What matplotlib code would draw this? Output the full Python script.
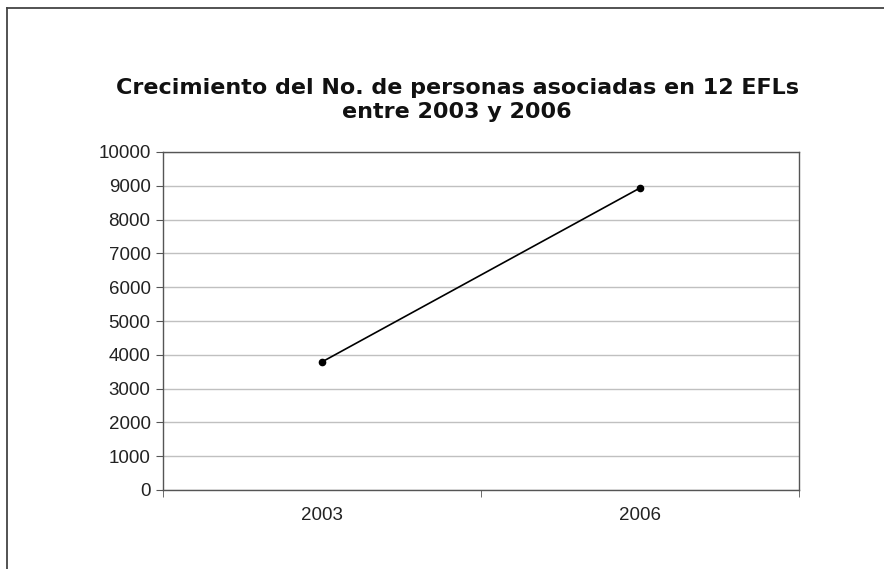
import matplotlib
matplotlib.use("Agg")
import matplotlib.pyplot as plt
from matplotlib.lines import Line2D

years = ["2003", "2006"]
socios = [3790, 8935]
yticks = [0, 1000, 2000, 3000, 4000, 5000, 6000, 7000, 8000, 9000, 10000]
title = "Crecimiento del No. de personas asociadas en 12 EFLs\nentre 2003 y 2006"

W, H = 884, 569
fig = plt.figure(figsize=(W/100, H/100), dpi=100)
fig.patch.set_facecolor("white")
# frame: top and left edges only
fig.lines.append(Line2D([6.5/W, 1.0], [1-7.5/H, 1-7.5/H], transform=fig.transFigure,
                       color="#444444", linewidth=1.3))
fig.lines.append(Line2D([6.5/W, 6.5/W], [0.0, 1-7.5/H], transform=fig.transFigure,
                       color="#444444", linewidth=1.3))

ax = fig.add_axes([163/W, 1-490/H, 636/W, 338/H])
xs = [i + 0.5 for i in range(len(years))]
ax.plot(xs, socios, color="black", linewidth=1.2, marker="o", markersize=4.5, zorder=3)

ax.set_xlim(0, len(years))
ax.set_ylim(0, 10000)
ax.set_yticks(yticks)
ax.set_yticklabels([str(v) for v in yticks], family="Liberation Sans", fontsize=13.5,
                   color="#222222")
ax.set_xticks(xs)
ax.set_xticklabels(years, family="Liberation Sans", fontsize=13.5, color="#222222")
ax.tick_params(axis="x", which="major", length=0, pad=12)
ax.set_xticks(range(len(years) + 1), minor=True)
ax.tick_params(axis="x", which="minor", length=5, direction="out", color="#555555")
ax.tick_params(axis="y", length=5, direction="out", color="#555555", pad=4)
ax.yaxis.grid(True, color="#c0c0c0", linewidth=1.0)
ax.set_axisbelow(True)
for s in ax.spines.values():
    s.set_color("#555555")
    s.set_linewidth(1.0)

fig.text(457/W, 1-100/H, title, ha="center", va="center",
         fontsize=16, fontweight="bold", family="DejaVu Sans", linespacing=1.3,
         color="#111111")

fig.savefig("out.png", dpi=100)
